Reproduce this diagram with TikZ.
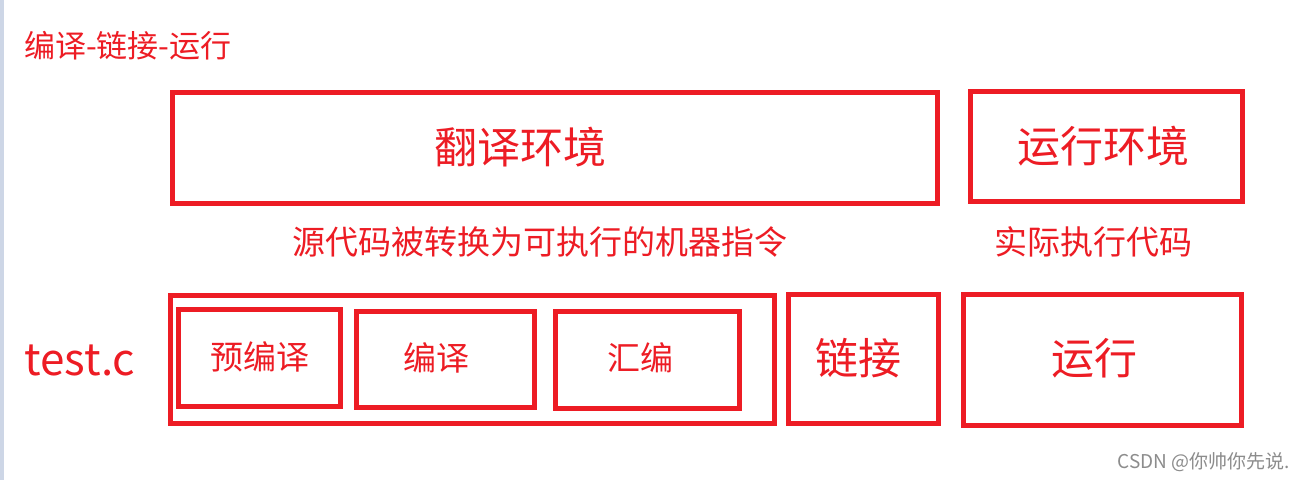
\documentclass[tikz,border=0pt]{standalone}
\usepackage{fontspec}
\setmainfont{Noto Sans CJK SC}
\usepackage{tikz}
\definecolor{cred}{HTML}{ED1C24}
\definecolor{strip}{HTML}{CDD6E6}

\begin{document}
\begin{tikzpicture}[x=1pt, y=-1pt,
  block/.style={rectangle, draw=cred, line width=5pt, inner sep=0pt},
  label/.style={text=cred, inner sep=0pt},
  big/.style={font=\fontsize{43}{48}\selectfont},
  mid/.style={font=\fontsize{33}{38}\selectfont}]
  \useasboundingbox (0,0) rectangle (1302,480);
  \fill[white] (0,0) rectangle (1302,480);
  \fill[strip] (0,0) rectangle (4,480);

    \node[label, anchor=west, font=\fontsize{31}{34}\selectfont] (title) at (24,46) {编译-链接-运行};

    % top row
    \node[block, minimum width=765pt, minimum height=111pt] (b1) at (555,148) {};
    \node[block, minimum width=272pt, minimum height=110pt] (b2) at (1106.5,146.5) {};
    \node[label, big] (l1) at ([xshift=-35pt,yshift=1pt]b1.center) {翻译环境};
    \node[label, big] (l2) at ([xshift=-3pt]b2.center) {运行环境};
    \node[label, mid] (t1) at (540,242) {源代码被转换为可执行的机器指令};
    \node[label, mid] (t2) at (1093,242) {实际执行代码};

    % bottom row
    \node[label, anchor=west, font=\fontsize{44}{48}\selectfont] (src) at (24,360) {test.c};
    \node[block, minimum width=604pt, minimum height=128pt] (c1) at (472.5,359.5) {};
    \node[block, minimum width=162pt, minimum height=97pt] (s1) at (259.5,358) {};
    \node[block, minimum width=178pt, minimum height=96pt] (s2) at (445.5,359.5) {};
    \node[block, minimum width=184pt, minimum height=97pt] (s3) at (647.5,360) {};
    \node[block, minimum width=150pt, minimum height=129pt] (s4) at (863.5,359) {};
    \node[block, minimum width=278pt, minimum height=131pt] (s5) at (1102.5,360) {};
    \node[label, mid] (l3) at ([yshift=1pt]s1.center) {预编译};
    \node[label, mid] (l4) at ([xshift=-9pt,yshift=2pt]s2.center) {编译};
    \node[label, mid] (l5) at ([xshift=-7.5pt,yshift=2pt]s3.center) {汇编};
    \node[label, big] (l6) at ([xshift=-5.5pt,yshift=1pt]s4.center) {链接};
    \node[label, big] (l7) at ([xshift=-8.5pt,yshift=2pt]s5.center) {运行};

    \node[text=black!45, anchor=east, inner sep=0pt, font=\fontsize{19}{21}\selectfont] (mark) at (1290,462) {CSDN @你帅你先说.};
\end{tikzpicture}
\end{document}
